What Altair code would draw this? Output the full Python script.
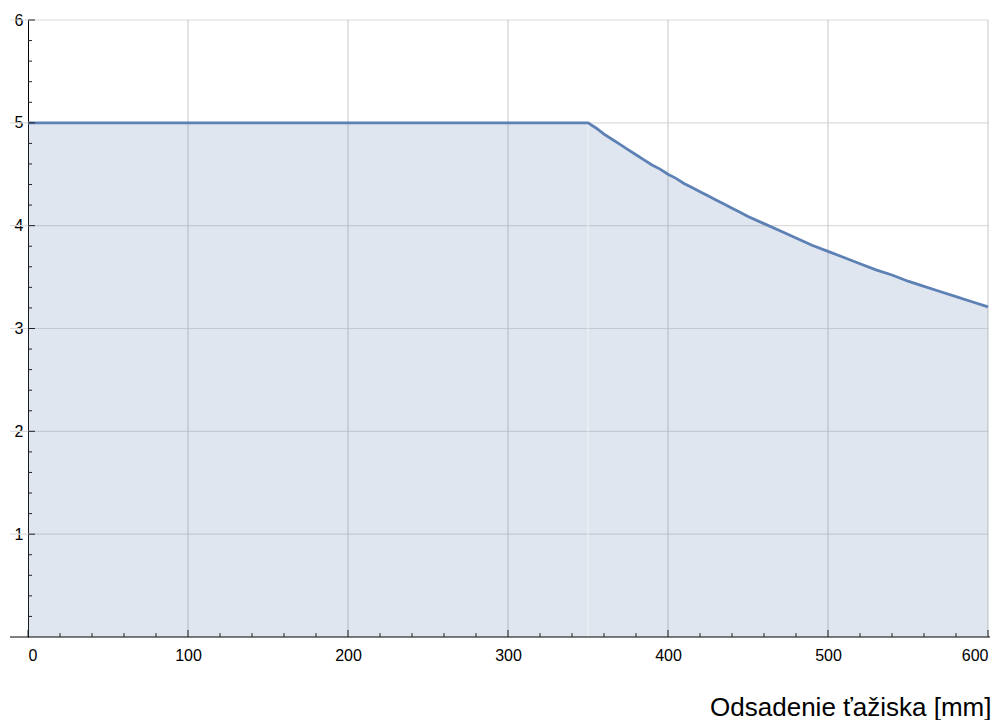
import altair as alt
import pandas as pd

# Curve data
x_vals = [0, 350, 355, 360, 365, 370, 375, 380, 385, 390, 395, 400, 405, 410,
          415, 420, 425, 430, 435, 440, 445, 450, 460, 470, 480, 490, 500,
          510, 520, 530, 540, 550, 560, 570, 580, 590, 600]
y_vals = [5.0, 5.0, 4.95, 4.89, 4.84, 4.79, 4.74, 4.69, 4.64, 4.59, 4.55, 4.5,
          4.46, 4.41, 4.37, 4.33, 4.29, 4.25, 4.21, 4.17, 4.13, 4.09,
          4.02, 3.95, 3.88, 3.81, 3.75, 3.69, 3.63, 3.57, 3.52, 3.46, 3.41,
          3.36, 3.31, 3.26, 3.21]

x_labels = [0, 100, 200, 300, 400, 500, 600]
y_labels = [1, 2, 3, 4, 5, 6]
x_major = [0, 100, 200, 300, 400, 500, 600]
x_minor = [20, 40, 60, 80, 120, 140, 160, 180, 220, 240, 260, 280, 320, 340,
           360, 380, 420, 440, 460, 480, 520, 540, 560, 580]
y_major = [1, 2, 3, 4, 5, 6]
y_minor = [0.2, 0.4, 0.6, 0.8, 1.2, 1.4, 1.6, 1.8, 2.2, 2.4, 2.6, 2.8, 3.2, 3.4,
           3.6, 3.8, 4.2, 4.4, 4.6, 4.8, 5.2, 5.4, 5.6, 5.8]
x_vgrid = [100, 200, 300, 400, 500, 600]
y_hgrid = [1, 2, 3, 4, 5, 6]
x_title = "Odsadenie ťažiska [mm]"

W, H = 960, 617
LINE = "#5E81B5"
FONT = "Liberation Sans"

xs = alt.Scale(domain=[0, 600], nice=False, zero=False)
ys = alt.Scale(domain=[0, 6], nice=False, zero=False)

x_axis = alt.Axis(values=x_labels, ticks=False, domain=False, grid=False, format="d",
                  labelFontSize=16, labelPadding=10, labelColor="#000000",
                  labelFont=FONT, title=x_title, titleFont=FONT,
                  titleFontSize=26, titleFontWeight="normal", titleColor="#000000",
                  titleAnchor="end", titleAlign="right", titleX=W + 3,
                  titleY=78, titleBaseline="alphabetic")
y_axis = alt.Axis(values=y_labels, ticks=False, domain=True, domainColor="#000000",
                  domainWidth=1, grid=False, format="d", labelFontSize=16,
                  labelPadding=5, labelColor="#000000", labelFont=FONT, title=None)

curve = pd.DataFrame({"x": x_vals, "y": y_vals})

hgrid = alt.Chart(pd.DataFrame({"y": y_hgrid})).mark_rule(
    color="#dcdcdc", strokeWidth=1.2
).encode(y=alt.Y("y:Q", scale=ys, axis=y_axis), x=alt.value(-18), x2=alt.value(W))

vgrid = alt.Chart(pd.DataFrame({"x": x_vgrid})).mark_rule(
    color="#c6c6c6", strokeWidth=1
).encode(x=alt.X("x:Q", scale=xs, axis=x_axis), y=alt.value(0), y2=alt.value(H))

area = alt.Chart(curve).mark_area(color=LINE, opacity=0.2).encode(
    x=alt.X("x:Q", scale=xs), y=alt.Y("y:Q", scale=ys)
)

seam = alt.Chart(pd.DataFrame({"x": [350], "y": [0], "y2": [5]})).mark_rule(
    color="#ffffff", strokeWidth=1, opacity=0.6
).encode(x=alt.X("x:Q", scale=xs), y=alt.Y("y:Q", scale=ys), y2="y2:Q")

line = alt.Chart(curve).mark_line(color=LINE, strokeWidth=2.8).encode(
    x=alt.X("x:Q", scale=xs), y=alt.Y("y:Q", scale=ys)
)

xaxis_line = alt.Chart(pd.DataFrame({"y": [0]})).mark_rule(
    color="#000000", strokeWidth=1
).encode(y=alt.Y("y:Q", scale=ys), x=alt.value(-18), x2=alt.value(W + 2))

xt_major = alt.Chart(pd.DataFrame({"x": x_major})).mark_rule(color="#222222").encode(
    x=alt.X("x:Q", scale=xs), y=alt.value(H), y2=alt.value(H - 7))
xt_minor = alt.Chart(pd.DataFrame({"x": x_minor})).mark_rule(color="#222222").encode(
    x=alt.X("x:Q", scale=xs), y=alt.value(H), y2=alt.value(H - 4))
yt_major = alt.Chart(pd.DataFrame({"y": y_major})).mark_rule(color="#222222").encode(
    y=alt.Y("y:Q", scale=ys), x=alt.value(0), x2=alt.value(7))
yt_minor = alt.Chart(pd.DataFrame({"y": y_minor})).mark_rule(color="#222222").encode(
    y=alt.Y("y:Q", scale=ys), x=alt.value(0), x2=alt.value(4))

chart = alt.layer(
    hgrid, vgrid, area, seam, line, xaxis_line, xt_major, xt_minor, yt_major, yt_minor
).properties(
    width=W, height=H,
    autosize=alt.AutoSizeParams(type="none"),
    padding={"left": 20, "top": 12, "right": 4, "bottom": 83},
).configure_view(stroke=None).configure_axis(grid=False, ticks=False)

chart.save("out.html", embed_options={"renderer": "svg", "actions": False})
